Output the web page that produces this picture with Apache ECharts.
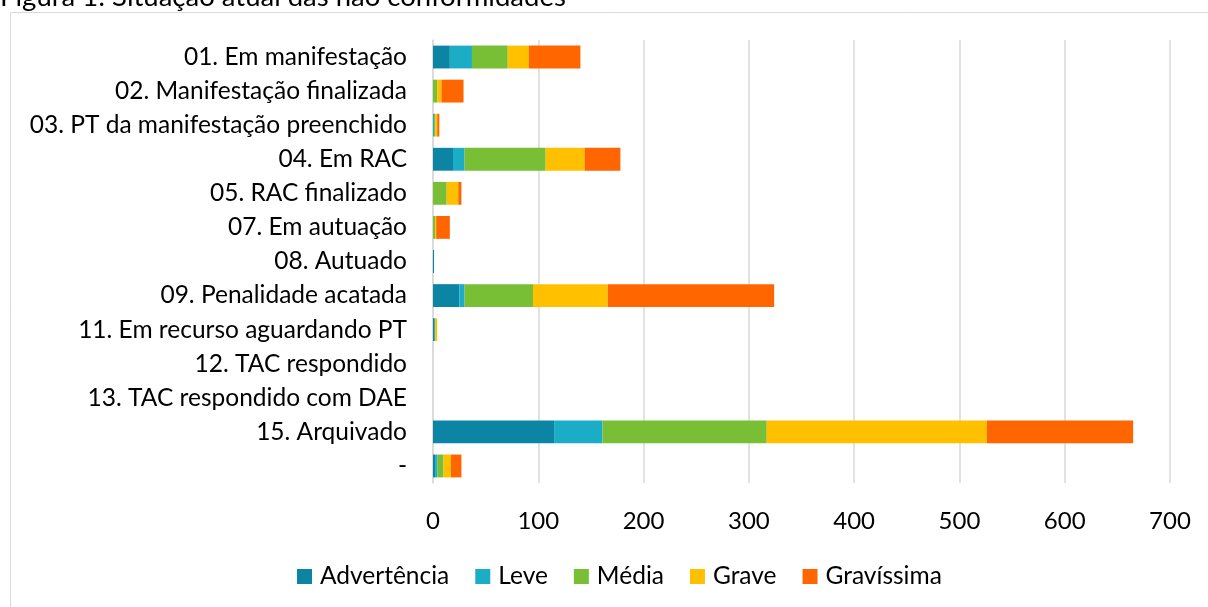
<!DOCTYPE html>
<html>
<head>
<meta charset="utf-8">
<script src="https://cdn.jsdelivr.net/npm/echarts@6/dist/echarts.min.js"></script>
<style>
html,body{margin:0;padding:0;background:#fff;}
#c{width:1208px;height:607px;}
</style>
</head>
<body>
<div id="c"></div>
<script>
const categories = ["01. Em manifestação","02. Manifestação finalizada","03. PT da manifestação preenchido","04. Em RAC","05. RAC finalizado","07. Em autuação","08. Autuado","09. Penalidade acatada","11. Em recurso aguardando PT","12. TAC respondido","13. TAC respondido com DAE","15. Arquivado","-"];
const seriesNames = ["Advertência","Leve","Média","Grave","Gravíssima"];
const advertencia = [16, 0, 0, 19, 0, 0, 1, 25, 1, 0, 0, 115, 2];
const leve        = [21, 0, 1, 11, 0, 0, 0, 5, 1, 0, 0, 46, 2];
const media       = [34, 4, 1, 77, 13, 2, 0, 65, 0, 0, 0, 156, 6];
const grave       = [20, 4, 2, 37, 11, 1, 0, 71, 2, 0, 0, 209, 7];
const gravissima  = [49, 21, 2, 34, 3, 13, 0, 158, 0, 0, 0, 139, 10];
const xTicks = [0, 100, 200, 300, 400, 500, 600, 700];
const colors = ["#0B85A3","#1BADC6","#79BF35","#FFC000","#FF6600"];
const title = "Figura 1: Situação atual das não conformidades";

const allData = [advertencia, leve, media, grave, gravissima];
const font = "Lato, 'Liberation Sans', sans-serif";

const chart = echarts.init(document.getElementById('c'));
chart.setOption({
  animation: false,
  backgroundColor: '#fff',
  color: colors,
  graphic: [
    {type:'rect', shape:{x:10.5, y:12.5, width:1300, height:700}, style:{fill:'none', stroke:'#D9D9D9', lineWidth:1}, silent:true},
    {type:'text', left:0, top:-17, style:{text:title, font:"27.5px " + font, fill:'#000'}, silent:true}
  ],
  grid: {left:433, right:38, top:40, bottom:124, containLabel:false},
  xAxis: {
    type:'value', min:xTicks[0], max:xTicks[xTicks.length-1], interval:100,
    axisLine:{show:false}, axisTick:{show:false},
    axisLabel:{color:'#000', fontSize:24, fontFamily:font, margin:26},
    splitLine:{lineStyle:{color:'#D9D9D9', width:1.5}}
  },
  yAxis: {
    type:'category', data:categories, inverse:true,
    axisLine:{show:true, lineStyle:{color:'#D9D9D9', width:1.5}},
    axisTick:{show:false},
    axisLabel:{color:'#000', fontSize:24.5, fontFamily:font, margin:26}
  },
  legend: {
    data: seriesNames, bottom:13, left:292, itemWidth:15, itemHeight:15, itemGap:26,
    icon:'rect', textStyle:{color:'#000', fontSize:24.5, fontFamily:font, padding:[0,0,0,3]}
  },
  series: seriesNames.map((n,i)=>({
    name:n, type:'bar', stack:'total', data:allData[i], barCategoryGap:'33%',
    itemStyle:{color:colors[i]}
  }))
});
</script>
</body>
</html>
